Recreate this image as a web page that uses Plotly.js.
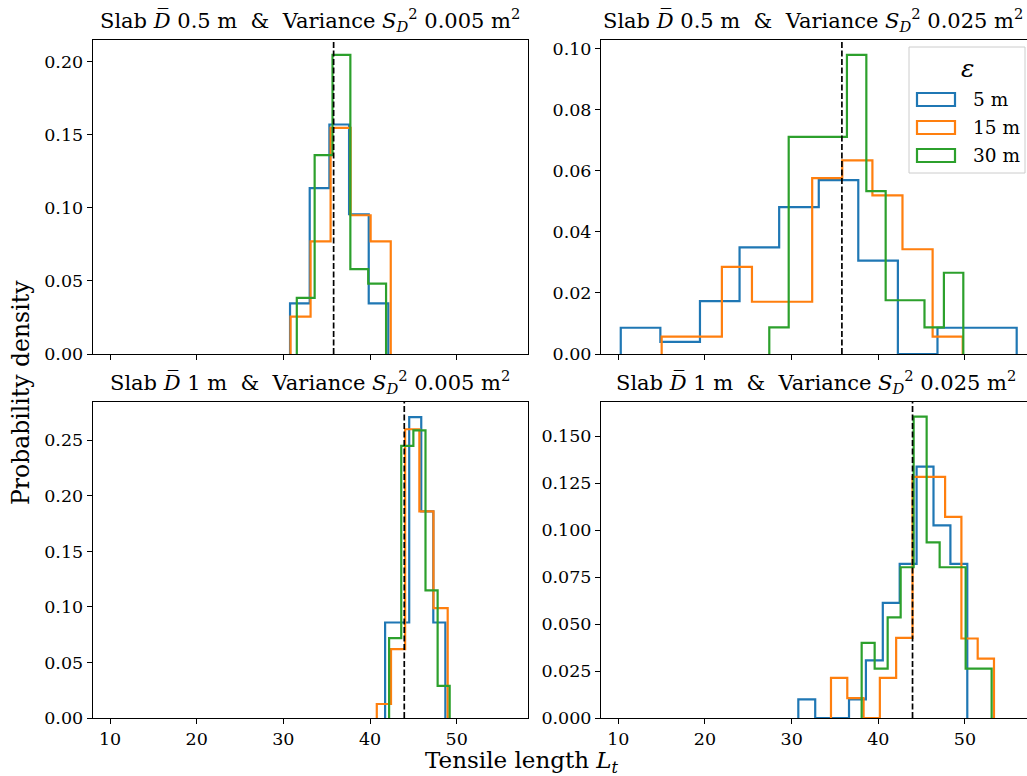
<!DOCTYPE html>
<html><head><meta charset="utf-8">
<script src="https://cdn.plot.ly/plotly-3.0.1.min.js"></script>
<style>html,body{margin:0;padding:0;background:#fff}#chart{width:1027px;height:776px}</style>
</head><body><div id="chart"></div>
<script>
// ---- data ----
const seriesNames = ['5 m', '15 m', '30 m'];
const seriesColors = ['#1f77b4', '#ff7f0e', '#2ca02c'];

// Panel 1: Slab D 0.5 m, variance 0.005
const edgesP1_5  = [30.77, 33.04, 35.31, 37.58, 39.85, 42.11];
const densP1_5   = [0.0346, 0.1135, 0.157, 0.0956, 0.0346];
const edgesP1_15 = [30.83, 33.14, 35.45, 37.76, 40.07, 42.39];
const densP1_15  = [0.0255, 0.0771, 0.1547, 0.0949, 0.0771];
const edgesP1_30 = [31.55, 33.61, 35.67, 37.73, 39.79, 41.85];
const densP1_30  = [0.0384, 0.136, 0.2046, 0.058, 0.0482];

// Panel 2: Slab D 0.5 m, variance 0.025
const edgesP2_5  = [10.28, 14.85, 19.42, 23.99, 28.56, 33.13, 37.69, 42.26, 46.83, 51.40, 55.97];
const densP2_5   = [0.0086, 0.0040, 0.0173, 0.0349, 0.0481, 0.0569, 0.0306, 0, 0.0086, 0.0086];
const edgesP2_15 = [15.00, 18.47, 21.95, 25.42, 28.90, 32.37, 35.84, 39.32, 42.79, 46.27, 49.74];
const densP2_15  = [0.0057, 0.0057, 0.0285, 0.0171, 0.0171, 0.0576, 0.0634, 0.0519, 0.0343, 0.0057];
const edgesP2_30 = [27.42, 29.66, 31.90, 34.14, 36.38, 38.62, 40.85, 43.09, 45.33, 47.57, 49.81];
const densP2_30  = [0.0087, 0.0711, 0.0711, 0.0711, 0.0979, 0.0533, 0.0176, 0.0176, 0.0087, 0.0266];

// Panel 3: Slab D 1 m, variance 0.005
const edgesP3_5  = [41.74, 43.13, 44.52, 45.91, 47.30, 48.69];
const densP3_5   = [0.086, 0.086, 0.271, 0.186, 0.086];
const edgesP3_15 = [40.78, 42.42, 44.05, 45.69, 47.32, 48.96];
const densP3_15  = [0.0126, 0.062, 0.26, 0.186, 0.099];
const edgesP3_30 = [42.20, 43.60, 45.00, 46.40, 47.80, 49.19];
const densP3_30  = [0.072, 0.245, 0.259, 0.115, 0.0289];

// Panel 4: Slab D 1 m, variance 0.025
const edgesP4_5  = [30.77, 32.72, 34.67, 36.62, 38.57, 40.52, 42.47, 44.42, 46.37, 48.32, 50.27];
const densP4_5   = [0.0099, 0, 0, 0.0099, 0.0307, 0.0613, 0.082, 0.1337, 0.1025, 0.082];
const edgesP4_15 = [34.54, 36.42, 38.30, 40.18, 42.06, 43.95, 45.83, 47.71, 49.59, 51.47, 53.35];
const densP4_15  = [0.0213, 0.0106, 0, 0.0213, 0.0426, 0.1283, 0.1283, 0.107, 0.0423, 0.0316];
const edgesP4_30 = [38.08, 39.58, 41.08, 42.58, 44.08, 45.58, 47.08, 48.58, 50.08, 51.58, 53.08];
const densP4_30  = [0.04, 0.0263, 0.0535, 0.0802, 0.1604, 0.0934, 0.0802, 0.0802, 0.0263, 0.0263];

const refLineTop = 35.8;     // dashed reference, D = 0.5 m
const refLineBottom = 43.95; // dashed reference, D = 1 m

const panelTitles = [
  'Slab <i>D\u0305</i> 0.5 m  &  Variance <i>S</i><sub><i>D</i></sub><sup>2</sup> 0.005 m<sup>2</sup>',
  'Slab <i>D\u0305</i> 0.5 m  &  Variance <i>S</i><sub><i>D</i></sub><sup>2</sup> 0.025 m<sup>2</sup>',
  'Slab <i>D\u0305</i> 1 m  &  Variance <i>S</i><sub><i>D</i></sub><sup>2</sup> 0.005 m<sup>2</sup>',
  'Slab <i>D\u0305</i> 1 m  &  Variance <i>S</i><sub><i>D</i></sub><sup>2</sup> 0.025 m<sup>2</sup>'
];
const xTickVals = [10, 20, 30, 40, 50];

// ---- build ----
const W = 1027, H = 776;
const FONT = 'DejaVu Serif, Liberation Serif, serif';
function px(x) { return x / W; }
function py(y) { return 1 - y / H; }

function stepXY(edges, dens) {
  const x = [edges[0]], y = [0];
  for (let i = 0; i < dens.length; i++) { x.push(edges[i]); y.push(dens[i]); }
  x.push(edges[edges.length - 1]); y.push(0);
  return {x, y};
}

const panels = [
  {ax: '', sets: [[edgesP1_5, densP1_5], [edgesP1_15, densP1_15], [edgesP1_30, densP1_30]]},
  {ax: '2', sets: [[edgesP2_5, densP2_5], [edgesP2_15, densP2_15], [edgesP2_30, densP2_30]]},
  {ax: '3', sets: [[edgesP3_5, densP3_5], [edgesP3_15, densP3_15], [edgesP3_30, densP3_30]]},
  {ax: '4', sets: [[edgesP4_5, densP4_5], [edgesP4_15, densP4_15], [edgesP4_30, densP4_30]]}
];

const traces = [];
panels.forEach(p => {
  p.sets.forEach((s, k) => {
    const st = stepXY(s[0], s[1]);
    traces.push({
      type: 'scatter', mode: 'lines', x: st.x, y: st.y,
      line: {shape: 'hv', color: seriesColors[k], width: 2.2},
      name: seriesNames[k], showlegend: false, hoverinfo: 'skip',
      xaxis: 'x' + p.ax, yaxis: 'y' + p.ax
    });
  });
});

const leftDom = [px(92.7), px(528.2)];
const rightDom = [px(601), 1];
const topDom = [py(354), py(40)];
const botDom = [py(718), py(401.5)];
const TICKSIZE = 17.5;

function xax(dom, range, anchor, labels) {
  return {domain: dom, range: range, anchor: anchor, tickvals: xTickVals,
    showticklabels: labels, ticks: 'outside', ticklen: 5, tickwidth: 1, tickcolor: '#000',
    showline: true, linecolor: '#000', linewidth: 1, mirror: true, showgrid: false, zeroline: false,
    tickfont: {family: FONT, size: TICKSIZE, color: '#000'}};
}
function yax(dom, range, anchor, dtick, fmt) {
  return {domain: dom, range: range, anchor: anchor, dtick: dtick, tick0: 0, tickformat: fmt,
    ticks: 'outside', ticklen: 5, tickwidth: 1, tickcolor: '#000',
    showline: true, linecolor: '#000', linewidth: 1, mirror: true, showgrid: false, zeroline: false,
    tickfont: {family: FONT, size: TICKSIZE, color: '#000'}};
}

const annotations = [];
const titlePos = [
  [(92.7 + 528.2) / 2, 37], [813, 37],
  [(92.7 + 528.2) / 2, 399], [816, 399]
];
panelTitles.forEach((t, i) => {
  annotations.push({text: t, xref: 'paper', yref: 'paper', x: px(titlePos[i][0]), y: py(titlePos[i][1]),
    xanchor: 'center', yanchor: 'bottom', showarrow: false, font: {family: FONT, size: 21, color: '#000'}});
});
annotations.push({text: 'Probability density', xref: 'paper', yref: 'paper', x: px(21), y: py(393),
  textangle: -90, xanchor: 'center', yanchor: 'middle', showarrow: false, font: {family: FONT, size: 23.5, color: '#000'}});
annotations.push({text: 'Tensile length <i>L</i><sub><i>t</i></sub>', xref: 'paper', yref: 'paper', x: px(522), y: py(762),
  xanchor: 'center', yanchor: 'middle', showarrow: false, font: {family: FONT, size: 23, color: '#000'}});

// manual legend
const shapes = [];
shapes.push({type: 'rect', xref: 'paper', yref: 'paper', x0: px(909), x1: px(1025), y0: py(173), y1: py(47),
  line: {color: '#cccccc', width: 1}, fillcolor: 'rgba(255,255,255,0.8)', layer: 'above'});
annotations.push({text: '<i>ε</i>', xref: 'paper', yref: 'paper', x: px(967), y: py(68), xanchor: 'center', yanchor: 'middle',
  showarrow: false, font: {family: FONT, size: 25, color: '#000'}});
const legRows = [99.5, 127.5, 155.5];
seriesNames.forEach((n, k) => {
  shapes.push({type: 'rect', xref: 'paper', yref: 'paper', x0: px(917), x1: px(955),
    y0: py(legRows[k] + 6.5), y1: py(legRows[k] - 6.5), line: {color: seriesColors[k], width: 2.2},
    fillcolor: 'rgba(0,0,0,0)', layer: 'above'});
  annotations.push({text: n, xref: 'paper', yref: 'paper', x: px(971), y: py(legRows[k]), xanchor: 'left', yanchor: 'middle',
    showarrow: false, font: {family: FONT, size: 18.5, color: '#000'}});
});

// dashed reference lines
[['x', 'y', refLineTop], ['x2', 'y2', refLineTop], ['x3', 'y3', refLineBottom], ['x4', 'y4', refLineBottom]].forEach(r => {
  shapes.push({type: 'line', xref: r[0], yref: r[1] + ' domain', x0: r[2], x1: r[2], y0: 0, y1: 1,
    line: {color: '#000', width: 1.7, dash: '6px,2.5px'}, layer: 'above'});
});

const layout = {
  width: W, height: H, margin: {l: 0, r: 0, t: 0, b: 0},
  paper_bgcolor: '#fff', plot_bgcolor: '#fff', showlegend: false,
  font: {family: FONT, color: '#000'},
  xaxis: xax(leftDom, [8.0, 58.25], 'y', false),
  yaxis: yax(topDom, [0, 0.2148], 'x', 0.05, '.2f'),
  xaxis2: xax(rightDom, [8.0, 57.16], 'y2', false),
  yaxis2: yax(topDom, [0, 0.1028], 'x2', 0.02, '.2f'),
  xaxis3: xax(leftDom, [8.0, 58.25], 'y3', true),
  yaxis3: yax(botDom, [0, 0.285], 'x3', 0.05, '.2f'),
  xaxis4: xax(rightDom, [8.0, 57.16], 'y4', true),
  yaxis4: yax(botDom, [0, 0.1684], 'x4', 0.025, '.3f'),
  annotations: annotations, shapes: shapes
};

Plotly.newPlot('chart', traces, layout, {staticPlot: true, displayModeBar: false});
</script></body></html>
